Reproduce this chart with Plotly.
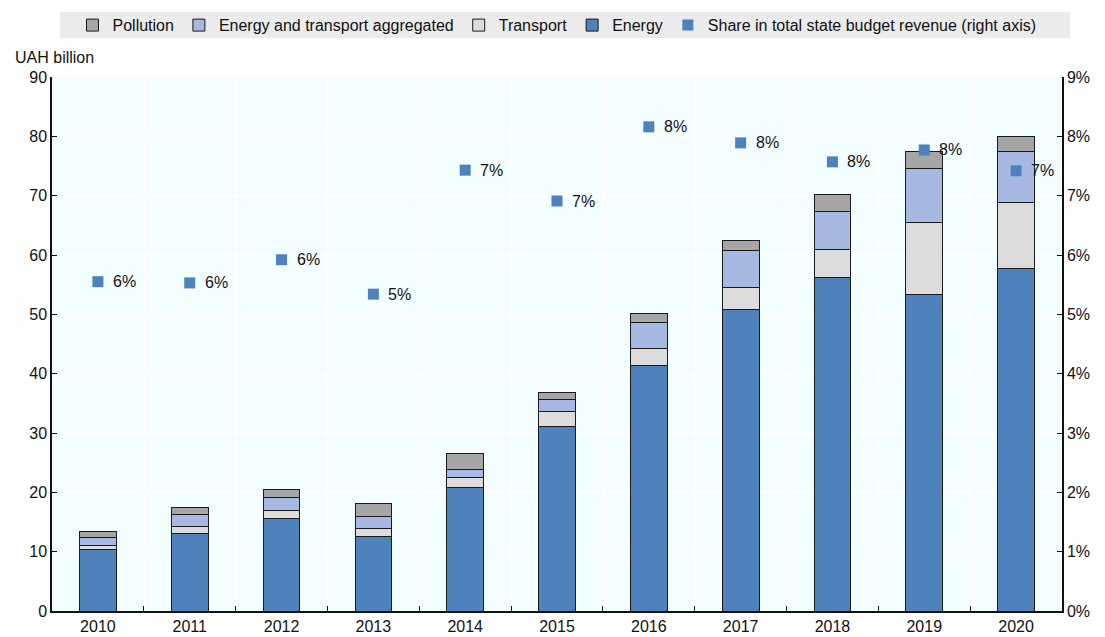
import plotly.graph_objects as go

years = ["2010", "2011", "2012", "2013", "2014", "2015", "2016", "2017", "2018", "2019", "2020"]
energy = [10.3, 13.0, 15.6, 12.6, 20.8, 31.1, 41.4, 50.8, 56.2, 53.3, 57.8]
transport = [0.7, 1.2, 1.3, 1.3, 1.7, 2.6, 2.9, 3.8, 4.7, 12.1, 11.1]
aggregated = [1.4, 2.1, 2.3, 2.1, 1.4, 2.0, 4.3, 6.1, 6.4, 9.2, 8.6]
pollution = [1.0, 1.1, 1.2, 2.1, 2.7, 1.2, 1.6, 1.7, 2.9, 2.9, 2.4]
share = [5.55, 5.53, 5.92, 5.34, 7.43, 6.91, 8.16, 7.89, 7.57, 7.77, 7.42]
share_labels = ["6%", "6%", "6%", "5%", "7%", "7%", "8%", "8%", "8%", "8%", "7%"]

FONT = "Liberation Sans, Arial, sans-serif"
LINE = dict(color="#1a1a1a", width=1)

fig = go.Figure()
bars = [
    ("Energy", energy, "#4f81bd", 4),
    ("Transport", transport, "#dcdcdc", 3),
    ("Energy and transport aggregated", aggregated, "#a7b9e3", 2),
    ("Pollution", pollution, "#a6a6a6", 1),
]
for name, vals, col, rank in bars:
    fig.add_trace(go.Bar(x=years, y=vals, name=name, marker=dict(color=col, line=LINE),
                         width=0.4, legendrank=rank))

fig.add_trace(go.Scatter(x=years, y=share, name="Share in total state budget revenue (right axis)",
                         mode="markers",
                         marker=dict(symbol="square", size=11, color="#4f81bd"),
                         yaxis="y2", legendrank=5, cliponaxis=False))

annotations = [dict(text="UAH billion", xref="paper", yref="paper", x=-0.039, y=1.037,
                    xanchor="left", yanchor="middle", showarrow=False, font=dict(size=16))]
for i, (v, lab) in enumerate(zip(share, share_labels)):
    annotations.append(dict(x=i, y=v, xref="x", yref="y2", text=lab, showarrow=False,
                            xanchor="left", yanchor="middle", xshift=13,
                            font=dict(size=16, color="#111")))

fig.update_layout(
    width=1105, height=637,
    margin=dict(l=44, r=51, t=69, b=34, autoexpand=False),
    barmode="stack",
    plot_bgcolor="#f2feff",
    paper_bgcolor="white",
    font=dict(family=FONT, size=16, color="#111"),
    legend=dict(orientation="h", x=0.5, xanchor="center", y=1.097, yanchor="middle",
                bgcolor="rgba(0,0,0,0)", font=dict(size=16), itemwidth=30,
                traceorder="normal", tracegroupgap=0),
    xaxis=dict(type="category", range=[-0.5, len(years) - 0.5], tickson="boundaries",
               ticks="inside", ticklen=5,
               tickcolor="#111", showline=True, linecolor="#111", linewidth=1.5,
               showgrid=True, gridcolor="white", gridwidth=1.5),
    yaxis=dict(range=[0, 90], dtick=10, ticks="inside", ticklen=5, tickcolor="#111",
               showline=True, linecolor="#111", linewidth=1.5,
               showgrid=True, gridcolor="white", gridwidth=1.5, zeroline=False),
    yaxis2=dict(range=[0, 9], dtick=1, ticksuffix="%", overlaying="y", side="right",
                ticks="inside", ticklen=5, tickcolor="#111", showline=True,
                linecolor="#111", linewidth=1.5, showgrid=False, zeroline=False),
    shapes=[dict(type="rect", xref="paper", yref="paper", x0=0.008, x1=1.008,
                 y0=1.073, y1=1.122, fillcolor="#ebebeb", line=dict(width=0), layer="below")],
    annotations=annotations,
)

fig.write_html("out.html")
